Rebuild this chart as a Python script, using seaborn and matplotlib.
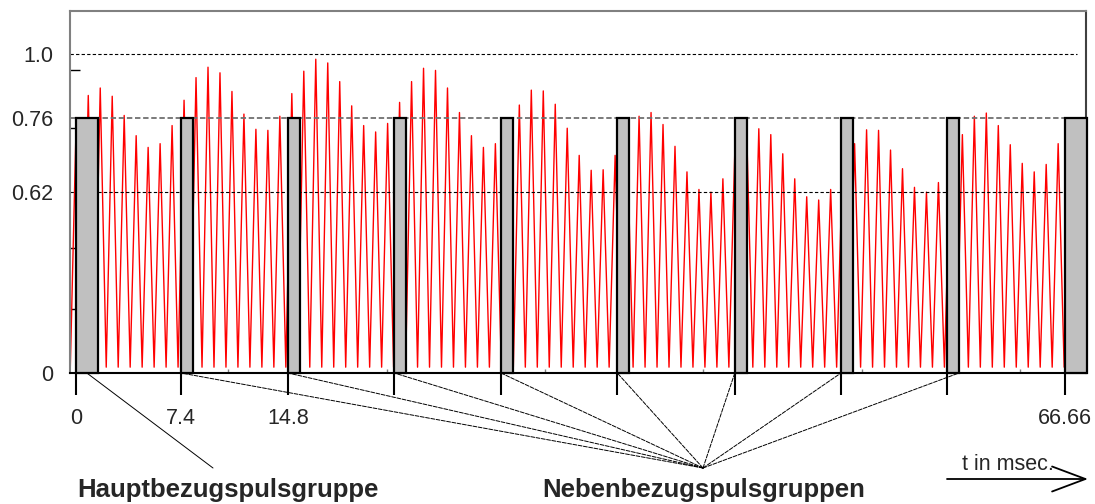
import numpy as np
import pandas as pd
import seaborn as sns
import matplotlib.pyplot as plt

# relative amplitude of every carrier peak, left to right
peaks = [0.76, 0.843, 0.871, 0.840, 0.768, 0.726, 0.704, 0.711, 0.745,
         0.825, 0.910, 0.949, 0.928, 0.858, 0.773, 0.738, 0.736, 0.765,
         0.850, 0.934, 0.979, 0.965, 0.895, 0.804, 0.745, 0.733, 0.749,
         0.817, 0.895, 0.945, 0.937, 0.871, 0.779, 0.726, 0.704, 0.711,
         0.740, 0.807, 0.863, 0.860, 0.810, 0.740, 0.689, 0.661, 0.662,
         0.689, 0.720, 0.765, 0.779, 0.747, 0.706, 0.658, 0.625, 0.620,
         0.645, 0.700, 0.724, 0.739, 0.728, 0.692, 0.645, 0.604, 0.593,
         0.625, 0.680, 0.711, 0.737, 0.736, 0.699, 0.664, 0.629, 0.620,
         0.638, 0.690, 0.728, 0.765, 0.777, 0.745, 0.709, 0.674, 0.658,
         0.672, 0.711]
pulse_period = 0.807   # ms between two peaks
first_peak = 0.02      # ms
baseline = 0.02

# pulse groups (ms)
group_starts = [0, 7.08, 14.29, 21.45, 28.64, 36.48, 44.40, 51.56, 58.72, 66.66]
group_widths = [1.46, 0.79, 0.79, 0.79, 0.79, 0.79, 0.79, 0.79, 0.79, 1.48]
group_height = 0.76
group_labels = ['0', '7.4', '14.8', '', '', '', '', '', '', '66.66']

y_ticks = [0, 0.62, 0.76, 1.0]
y_labels = ['0', '0.62', '0.76', '1.0']
y_minor = [0.22, 0.43, 0.74, 0.94]
x_minor = [10.24, 20.96, 31.61, 42.26, 52.98, 63.62]

# schematic (non linear) amplitude axis
y_anchor_vals = [-1, 0, 0.62, 0.76, 1.0, 2.0]
y_anchor_pos = [-292, 0, 181, 255.6, 319.6, 586.3]


def fwd(v):
    return np.interp(v, y_anchor_vals, y_anchor_pos)


def inv(p):
    return np.interp(p, y_anchor_pos, y_anchor_vals)


W, H = 1095, 504


def fig_xy(x, y):
    # pixel position -> figure fraction
    return x / W, 1 - y / H


sns.set_style('white')
plt.rcParams['font.family'] = ['Liberation Sans', 'DejaVu Sans']

# zigzag carrier: baseline - peak - baseline ...
peak_t = first_peak + pulse_period * np.arange(len(peaks))
xs, ys = [], []
for t, p in zip(peak_t, peaks):
    xs += [t - pulse_period / 2, t]
    ys += [baseline, p]
xs.append(peak_t[-1] + pulse_period / 2)
ys.append(baseline)
carrier = pd.DataFrame({'t': xs, 'amp': ys})

fig = plt.figure(figsize=(W / 100, H / 100), dpi=100)
ax = fig.add_axes([70 / W, 131 / H, 1016 / W, 362.3 / H])
ax.set_yscale('function', functions=(fwd, inv))

sns.lineplot(data=carrier, x='t', y='amp', sort=False, estimator=None,
             color='#FF0000', linewidth=1.0, ax=ax, zorder=1)

# reference levels
ax.axhline(1.0, xmax=0.991, color='black', lw=0.8, ls=(0, (3, 2)), zorder=2)
ax.axhline(0.76, color='#707070', lw=1.3, ls=(0, (3, 1.5)), zorder=2)
ax.axhline(0.62, color='black', lw=0.8, ls=(0, (3, 2)), zorder=2)

# pulse groups
ax.bar(group_starts, [group_height] * len(group_starts), width=group_widths,
       align='edge', color='#C0C0C0', edgecolor='black', linewidth=1.6,
       zorder=3, clip_on=False)

ax.set_xlim(-0.404, 68.07)
ax.set_ylim(0, 1.161)
ax.set_xlabel('')
ax.set_ylabel('')

ax.set_xticks(group_starts, group_labels)
ax.set_xticks(x_minor, minor=True)
ax.tick_params(axis='x', which='major', direction='out', length=16, width=1.5,
               pad=9, labelsize=15.5, color='black', bottom=True)
ax.tick_params(axis='x', which='minor', direction='in', length=3, width=1,
               color='#808080', bottom=True)
ax.set_yticks(y_ticks, y_labels)
ax.set_yticks(y_minor, minor=True)
ax.tick_params(axis='y', which='major', length=0, pad=12, labelsize=15.5)
ax.tick_params(axis='y', which='minor', direction='in', length=7, width=1,
               color='black', left=True)

for side in ['left', 'top']:
    ax.spines[side].set_color('#808080')
    ax.spines[side].set_linewidth(1.5)
ax.spines['right'].set_color('#404040')
ax.spines['right'].set_linewidth(1.5)
ax.spines['bottom'].set_color('black')
ax.spines['bottom'].set_linewidth(1.5)

# leader lines to the captions
haupt_pt = fig_xy(213, 468)
neben_pt = fig_xy(703, 468)
ax.annotate('', xy=(group_starts[0] + group_widths[0] / 2, 0), xycoords='data',
            xytext=haupt_pt, textcoords='figure fraction',
            arrowprops=dict(arrowstyle='-', lw=0.7, color='black',
                            shrinkA=0, shrinkB=0),
            annotation_clip=False)
for i in range(1, len(group_starts) - 1):
    x0 = group_starts[i]
    if i == len(group_starts) - 2:
        x0 += group_widths[i]
    ax.annotate('', xy=(x0, 0), xycoords='data',
                xytext=neben_pt, textcoords='figure fraction',
                arrowprops=dict(arrowstyle='-', lw=0.7, color='black',
                                ls=(0, (4, 1.5)), shrinkA=0, shrinkB=0),
                annotation_clip=False)

fig.text(*fig_xy(228, 497), 'Hauptbezugspulsgruppe', ha='center',
         va='baseline', fontsize=18.5, fontweight='bold')
fig.text(*fig_xy(704, 497), 'Nebenbezugspulsgruppen', ha='center',
         va='baseline', fontsize=18.5, fontweight='bold')

# time arrow
fig.text(*fig_xy(1008, 470), 't in msec.', ha='center', va='baseline',
         fontsize=15.5)
ax.annotate('', xy=fig_xy(1088, 479), xycoords='figure fraction',
            xytext=fig_xy(947, 479), textcoords='figure fraction',
            arrowprops=dict(arrowstyle='->,head_length=1.2,head_width=0.45',
                            lw=1.3, color='black', mutation_scale=20,
                            shrinkA=0, shrinkB=0),
            annotation_clip=False)

fig.savefig('out.png', dpi=100)
